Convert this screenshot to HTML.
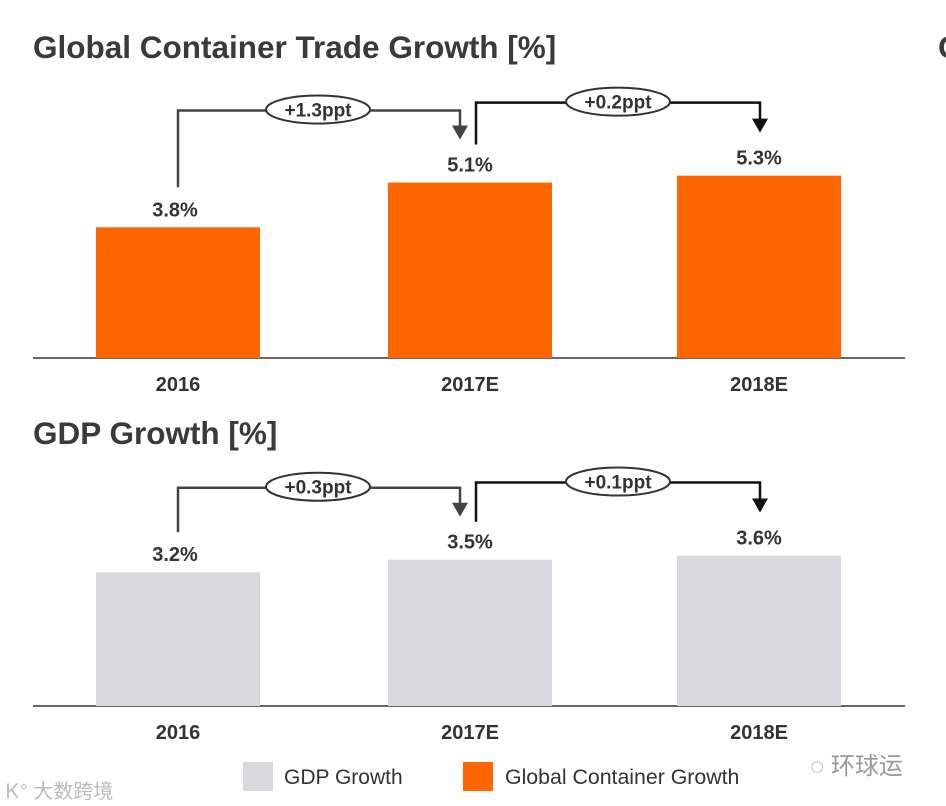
<!DOCTYPE html>
<html><head><meta charset="utf-8"><style>
body{margin:0;background:#fff;width:946px;height:806px;overflow:hidden;font-family:"Liberation Sans","Noto Sans CJK SC",sans-serif}
svg{display:block}
</style></head><body>
<svg id="chart" width="946" height="806">
<text x="33" y="58" font-size="31.5" font-weight="bold" fill="#3a3a3a">Global Container Trade Growth [%]</text>
<text x="938" y="58" font-size="31.5" font-weight="bold" fill="#3a3a3a">G</text>
<text x="33" y="444" font-size="31.5" font-weight="bold" fill="#3a3a3a">GDP Growth [%]</text>
<g id="marks"></g>
<rect x="243" y="762" width="30" height="29" fill="#d9d8dd"/>
<text x="284" y="784" font-size="21" fill="#333">GDP Growth</text>
<rect x="463" y="762" width="30" height="29" fill="#ff6600"/>
<text x="505" y="784" font-size="21.3" fill="#333">Global Container Growth</text>
<text x="6" y="798" font-size="20" fill="#bbb">Ꮶ° 大数跨境</text>
<text x="810" y="774" font-size="24" fill="#999">◌ 环球运</text>
</svg>
<script>
const categories=["2016","2017E","2018E"];
const containerValues=[3.8,5.1,5.3];
const gdpValues=[3.2,3.5,3.6];
const containerLabels=["3.8%","5.1%","5.3%"];
const gdpLabels=["3.2%","3.5%","3.6%"];
const containerDeltas=["+1.3ppt","+0.2ppt"];
const gdpDeltas=["+0.3ppt","+0.1ppt"];
const NS="http://www.w3.org/2000/svg";
const g=document.getElementById("marks");
const barX=[96,388,677], barW=164;
function mk(tag,attrs,parent){const e=document.createElementNS(NS,tag);for(const k in attrs)e.setAttribute(k,attrs[k]);(parent||g).appendChild(e);return e;}
function drawPanel(values,labels,deltas,base,scale,color,prefix){
  const yOf=v=>base-v*scale;
  mk("line",{x1:33,x2:905,y1:base,y2:base,stroke:"#333","stroke-width":1.5});
  values.forEach((v,i)=>{
    const r=mk("rect",{x:barX[i],y:yOf(v),width:barW,height:base-yOf(v),fill:color});
    
    
    const t=mk("text",{x:barX[i]+barW/2-(i==0?3:0),y:yOf(v)-11,"font-size":20,"font-weight":"bold",fill:"#333","text-anchor":"middle"});
    t.textContent=labels[i];
    
    
    const c=mk("text",{x:barX[i]+barW/2,y:base+33,"font-size":20,"font-weight":"bold",fill:"#333","text-anchor":"middle"});
    c.textContent=categories[i];
    
    
  });
  const sx=[178,476], ex=[460,760];
  for(let k=0;k<2;k++){
    const hy=yOf(values[k+1])-(k==0?72:73);
    const startY=yOf(values[k])-(k==0?40:38);
    const endY=yOf(values[k+1])-43;
    const col=k==0?"#444":"#111";
    const p=mk("path",{d:`M${sx[k]},${startY}V${hy}H${ex[k]}V${endY-12}`,fill:"none",stroke:col,"stroke-width":2.5});
    
    
    mk("polygon",{points:`${ex[k]-8},${endY-14} ${ex[k]+8},${endY-14} ${ex[k]},${endY}`,fill:col});
    const cx=(sx[k]+ex[k])/2+(k==0?-1:0);
    const el=mk("ellipse",{cx:cx,cy:hy-1,rx:52,ry:14,fill:"#fff",stroke:"#333","stroke-width":2});
    
    
    const dt=mk("text",{x:cx,y:hy+6,"font-size":19,"font-weight":"bold",fill:"#333","text-anchor":"middle"});
    dt.textContent=deltas[k];
    
    
  }
}
drawPanel(containerValues,containerLabels,containerDeltas,358,34.4,"#ff6600","container");
drawPanel(gdpValues,gdpLabels,gdpDeltas,706,41.8,"#d9d8dd","gdp");
</script>
</body></html>
